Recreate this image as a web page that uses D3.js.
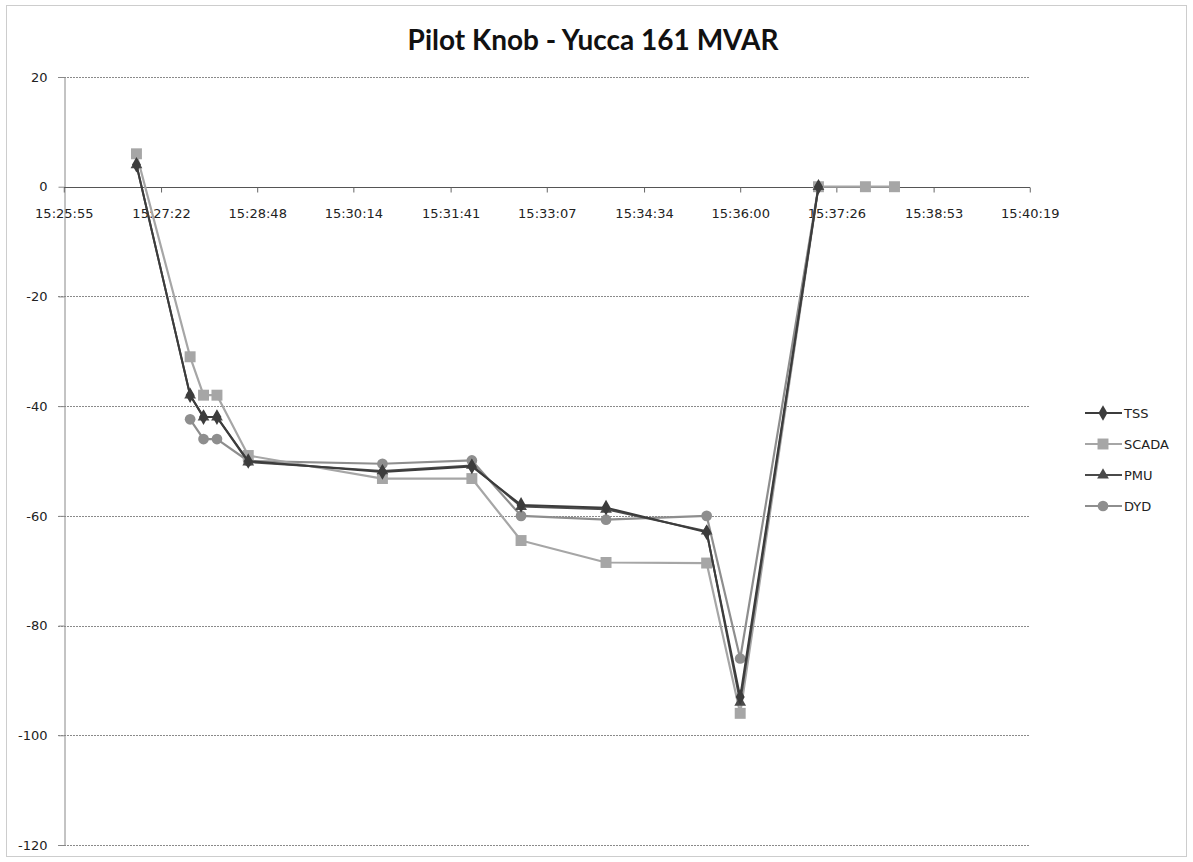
<!DOCTYPE html>
<html>
<head>
<meta charset="utf-8">
<script src="https://cdn.jsdelivr.net/npm/d3@7"></script>
<style>
  html, body { margin: 0; padding: 0; background: #fff; }
  svg { display: block; }
</style>
</head>
<body>
<svg id="chart" width="1193" height="862"></svg>
<script>
// ---- data ----
const times = ["15:27:00","15:27:48","15:28:00","15:28:12","15:28:40","15:30:40","15:32:00","15:32:44","15:34:00","15:35:30","15:36:00","15:37:10","15:37:52","15:38:18"];
const tss   = [4, -38, -42, -42, -50, -52, -51, -58, -58.5, -63, -93, 0, null, null];
const scada = [6, -31, -38, -38, -49, -53.2, -53.2, -64.5, -68.5, -68.6, -96, 0, 0, 0];
const pmu   = [4, -38, -42, -42, -50.2, -51.8, -50.8, -58.3, -58.8, -62.8, -94, 0, null, null];
const dyd   = [null, -42.4, -46, -46, -50, -50.5, -49.9, -60, -60.7, -60, -86, 0, null, null];
const seriesNames = ["TSS", "SCADA", "PMU", "DYD"];
const xTickLabels = ["15:25:55","15:27:22","15:28:48","15:30:14","15:31:41","15:33:07","15:34:34","15:36:00","15:37:26","15:38:53","15:40:19"];
const yTicks = [20, 0, -20, -40, -60, -80, -100, -120];
const title = "Pilot Knob - Yucca 161 MVAR";

// ---- helpers ----
const toSec = s => { const [h, m, c] = s.split(":").map(Number); return h * 3600 + m * 60 + c; };
const xMin = 15 * 3600 + 25 * 60 + 55.2, xMax = 15 * 3600 + 40 * 60 + 19.2;

const svg = d3.select("#chart");
const W = 1193, H = 862;
const plot = { left: 64, right: 1030, top: 77, bottom: 845 };

const x = d3.scaleLinear().domain([xMin, xMax]).range([plot.left, plot.right]);
const y = d3.scaleLinear().domain([-120, 20]).range([plot.bottom, plot.top]);

// outer chart border
svg.append("rect").attr("x", 6.5).attr("y", 5.5).attr("width", W - 13).attr("height", H - 11)
  .attr("fill", "#fff").attr("stroke", "#9a9a9a").attr("stroke-dasharray", "1,1");

// title
svg.append("text").attr("x", 593).attr("y", 50).attr("text-anchor", "middle")
  .attr("font-family", "Lato, 'Open Sans', sans-serif").attr("font-weight", "bold")
  .attr("font-size", 28).attr("fill", "#111").text(title);

// horizontal gridlines
svg.append("g").selectAll("line").data(yTicks.filter(d => d !== 0)).join("line")
  .attr("x1", plot.left - 6).attr("x2", plot.right)
  .attr("y1", d => Math.round(y(d)) + 0.5).attr("y2", d => Math.round(y(d)) + 0.5)
  .attr("stroke", "#8a8a8a").attr("stroke-width", 1).attr("stroke-dasharray", "2,1");

// y axis
const yAxis = d3.axisLeft(y).tickValues(yTicks).tickSize(6).tickFormat(d => String(d));
const gy = svg.append("g").attr("transform", `translate(${plot.left + 0.5},0)`).call(yAxis);
gy.select(".domain").attr("stroke", "#888");
gy.selectAll(".tick line").attr("stroke", "#888");
gy.selectAll(".tick text").attr("x", -17).attr("font-family", "'DejaVu Sans', sans-serif")
  .attr("font-size", 13).attr("fill", "#222");

// x axis at y=0
const xAxis = d3.axisBottom(x).tickValues(xTickLabels.map(toSec)).tickSize(5)
  .tickFormat((d, i) => xTickLabels[i]);
const gx = svg.append("g").attr("transform", `translate(0,${Math.round(y(0)) + 0.5})`).call(xAxis);
gx.select(".domain").attr("stroke", "#555").attr("d", `M${plot.left},0H${plot.right}`);
gx.selectAll(".tick line").attr("stroke", "#666");
gx.selectAll(".tick text").attr("y", 21).attr("font-family", "'DejaVu Sans', sans-serif")
  .attr("font-size", 13).attr("fill", "#222");

// series
const styles = {
  TSS:   { color: "#3c3c3c", shape: d3.symbolDiamond, size: 70, width: 2 },
  SCADA: { color: "#a6a6a6", shape: d3.symbolSquare, size: 120, width: 2.2 },
  PMU:   { color: "#4a4a4a", shape: d3.symbolTriangle, size: 60, width: 2 },
  DYD:   { color: "#8e8e8e", shape: d3.symbolCircle, size: 90, width: 2.2 }
};
const seriesValues = { TSS: tss, SCADA: scada, PMU: pmu, DYD: dyd };
const drawOrder = ["DYD", "SCADA", "PMU", "TSS"];

const line = d3.line().defined(d => d.v !== null).x(d => x(d.t)).y(d => y(d.v));

drawOrder.forEach(name => {
  const st = styles[name];
  const pts = times.map((t, i) => ({ t: toSec(t), v: seriesValues[name][i] })).filter(d => d.v !== null);
  svg.append("path").datum(pts).attr("d", line).attr("fill", "none")
    .attr("stroke", st.color).attr("stroke-width", st.width).attr("stroke-linejoin", "round");
  svg.append("g").selectAll("path").data(pts).join("path")
    .attr("transform", d => `translate(${x(d.t)},${y(d.v)})`)
    .attr("d", d3.symbol().type(st.shape).size(st.size))
    .attr("fill", st.color);
});

// legend
const legend = svg.append("g");
seriesNames.forEach((name, i) => {
  const st = styles[name];
  const ly = 413 + i * 31;
  legend.append("line").attr("x1", 1085).attr("x2", 1122).attr("y1", ly).attr("y2", ly)
    .attr("stroke", st.color).attr("stroke-width", st.width);
  legend.append("path").attr("transform", `translate(1103,${ly})`)
    .attr("d", d3.symbol().type(st.shape).size(st.size)).attr("fill", st.color);
  legend.append("text").attr("x", 1124).attr("y", ly + 5)
    .attr("font-family", "'DejaVu Sans', sans-serif").attr("font-size", 13).attr("fill", "#222")
    .text(name);
});
</script>
</body>
</html>
